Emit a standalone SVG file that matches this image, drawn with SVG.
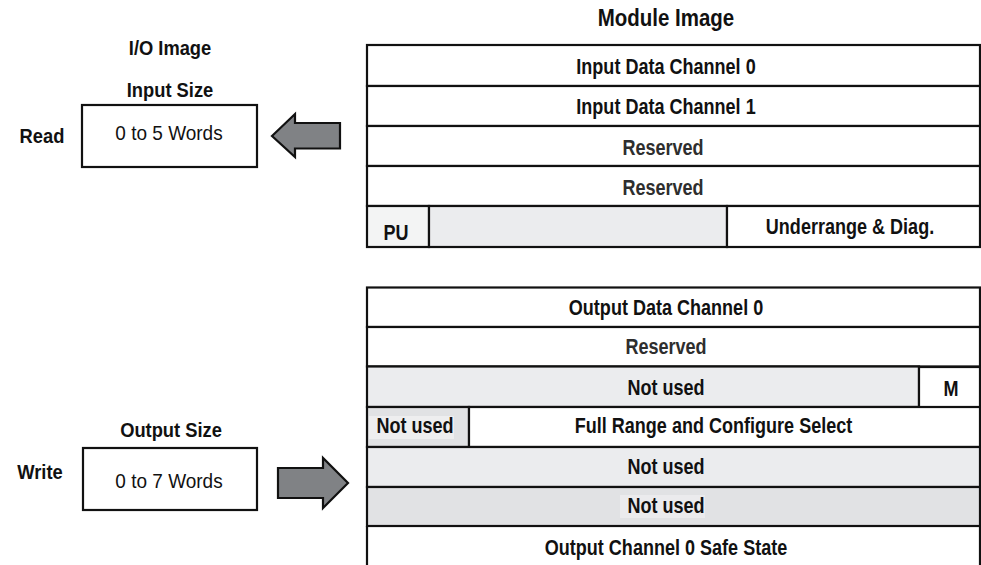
<svg xmlns="http://www.w3.org/2000/svg" width="981" height="565" viewBox="0 0 981 565">
<style>
text{font-family:"Liberation Sans",Arial,sans-serif;font-size:22px;font-weight:bold;fill:#111;text-anchor:middle}
.t{font-size:23px}
.s{font-size:19.5px}
.r{font-weight:normal;font-size:20px}
.g{fill:#2e2e2e}
.c{stroke:#111;stroke-width:2.2}
.w{fill:#fff}
.l1{fill:#ebecee}
.l2{fill:#e1e2e4}
.pu{fill:#f3f4f4}
.arr{fill:#808285;stroke:#111;stroke-width:2.2;stroke-linejoin:miter}
</style>
<rect width="981" height="565" fill="#fff"/>
<g id="labels">
<text class="t" transform="translate(666,26) scale(0.89,1)">Module Image</text>
<text class="s" transform="translate(170,55) scale(0.94,1)">I/O Image</text>
<text class="s" transform="translate(170,97) scale(0.94,1)">Input Size</text>
<text class="s" transform="translate(42,143) scale(0.94,1)">Read</text>
<text class="s" transform="translate(171,437) scale(0.94,1)">Output Size</text>
<text class="s" transform="translate(40,479) scale(0.94,1)">Write</text>
</g>
<g id="input-box">
<rect class="c w" x="82" y="105" width="175" height="62"/>
<text class="r" transform="translate(169,140) scale(0.95,1)">0 to 5 Words</text>
</g>
<g id="output-box">
<rect class="c w" x="83" y="448" width="174" height="62"/>
<text class="r" transform="translate(169,488) scale(0.95,1)">0 to 7 Words</text>
</g>
<g id="connectors">
<polygon class="arr" points="272,136 295,114 295,123 340,123 340,148.5 295,148.5 295,157"/>
<polygon class="arr" points="278,468 323,468 323,458 348,483 323,508 323,498 278,498"/>
</g>
<g id="input-image">
<g id="in-row1"><rect class="c w" x="367" y="45" width="613" height="41"/><text transform="translate(666,74) scale(0.82,1)">Input Data Channel 0</text></g>
<g id="in-row2"><rect class="c w" x="367" y="86" width="613" height="40"/><text transform="translate(666,114) scale(0.82,1)">Input Data Channel 1</text></g>
<g id="in-row3"><rect class="c w" x="367" y="126" width="613" height="40"/><text class="g" transform="translate(663,155) scale(0.82,1)">Reserved</text></g>
<g id="in-row4"><rect class="c w" x="367" y="166" width="613" height="40"/><text class="g" transform="translate(663,195) scale(0.82,1)">Reserved</text></g>
<g id="in-row5">
<rect class="c pu" x="367" y="206" width="62" height="41"/><text transform="translate(396,240) scale(0.82,1)">PU</text>
<rect class="c l1" x="429" y="206" width="298" height="41"/>
<rect class="c w" x="727" y="206" width="253" height="41"/><text transform="translate(850,234) scale(0.82,1)">Underrange &amp; Diag.</text>
</g>
</g>
<g id="output-image">
<g id="out-row1"><rect class="c w" x="367" y="287.5" width="613" height="39.5"/><text transform="translate(666,315) scale(0.82,1)">Output Data Channel 0</text></g>
<g id="out-row2"><rect class="c w" x="367" y="327" width="613" height="39.5"/><text class="g" transform="translate(666,354) scale(0.82,1)">Reserved</text></g>
<g id="out-row3">
<rect class="c l1" x="367" y="366.5" width="552" height="40.5"/><text transform="translate(666,395) scale(0.82,1)">Not used</text>
<rect class="c w" x="919" y="367" width="61" height="40.5"/><text transform="translate(951,396) scale(0.82,1)">M</text>
</g>
<g id="out-row4">
<rect class="c l2" x="367" y="407" width="102" height="40"/>
<rect x="369" y="416" width="85" height="23" fill="#eeeeef"/>
<text transform="translate(415,433) scale(0.82,1)">Not used</text>
<rect class="c w" x="469" y="407" width="511" height="40"/><text transform="translate(713.5,433) scale(0.82,1)">Full Range and Configure Select</text>
</g>
<g id="out-row5"><rect class="c l1" x="367" y="447" width="613" height="40"/><text transform="translate(666,474) scale(0.82,1)">Not used</text></g>
<g id="out-row6">
<rect class="c l2" x="367" y="487" width="613" height="39"/>
<rect x="620" y="495" width="85" height="23" fill="#ebebed"/>
<text transform="translate(666,513) scale(0.82,1)">Not used</text>
</g>
<g id="out-row7"><path class="c" d="M367,526 H980 M367,526 V566 M980,526 V566" fill="none"/><text transform="translate(666,555) scale(0.82,1)">Output Channel 0 Safe State</text></g>
</g>
</svg>
